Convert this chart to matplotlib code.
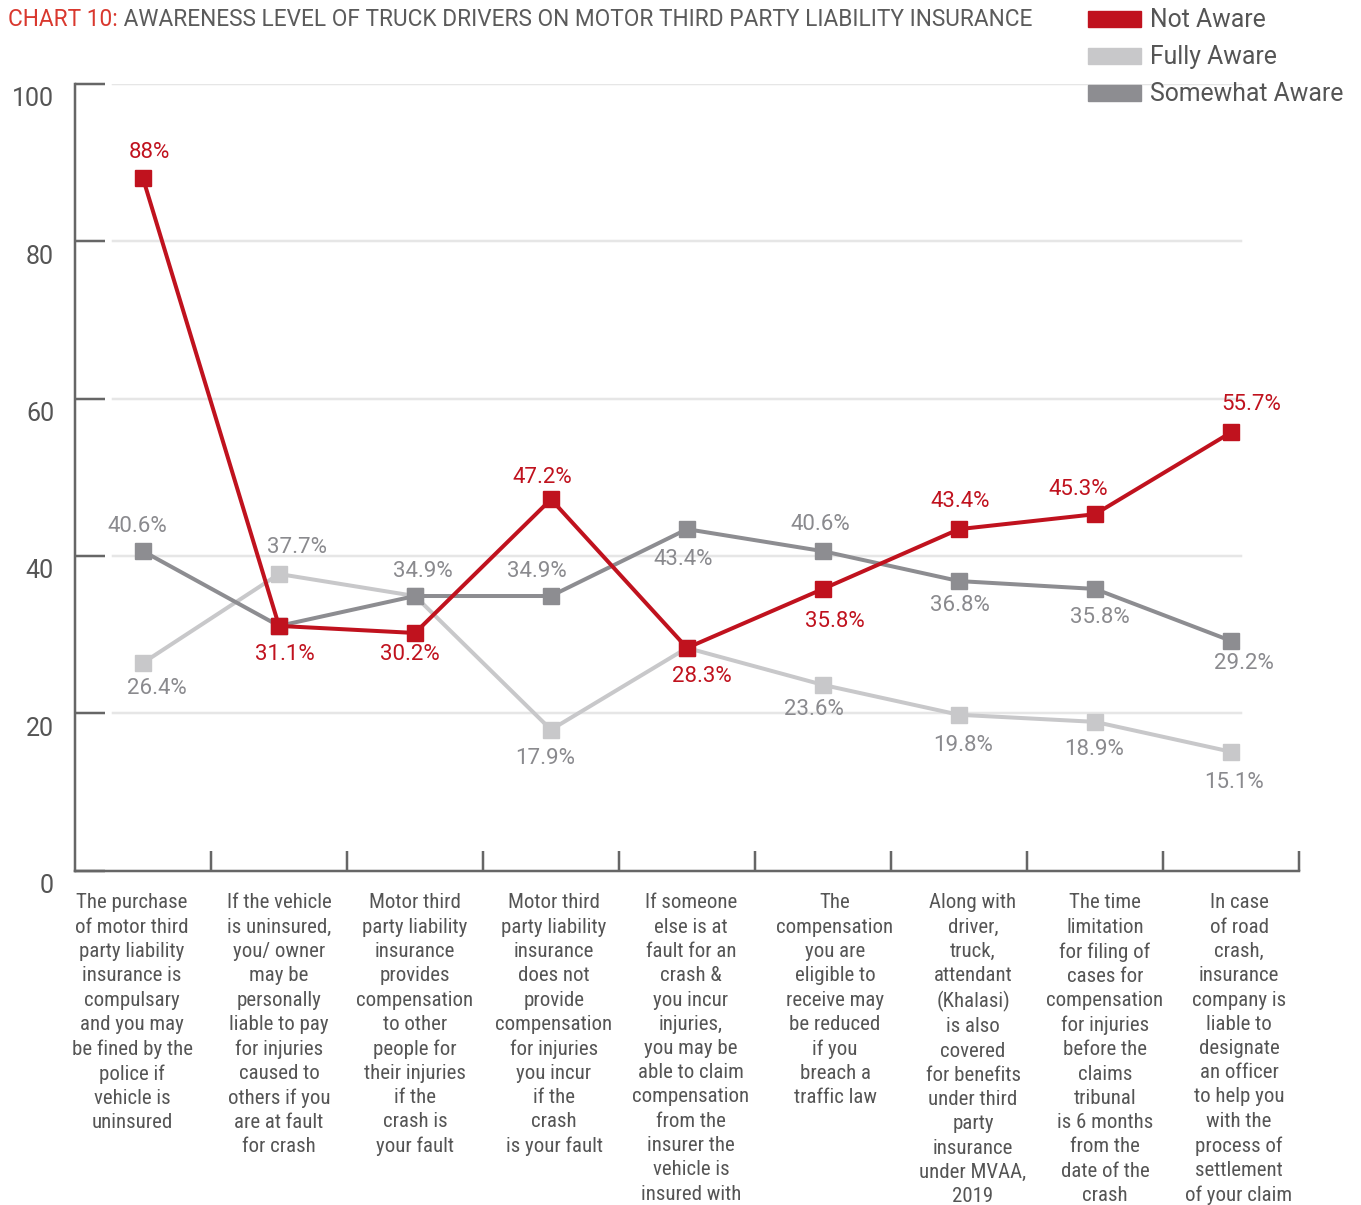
import matplotlib
matplotlib.use("Agg")
import matplotlib.pyplot as plt
from matplotlib import font_manager
from matplotlib.patches import Rectangle
from matplotlib.transforms import ScaledTranslation, blended_transform_factory

# ---------------- data ----------------
categories = [
    "The purchase\nof motor third\nparty liability\ninsurance is\ncompulsary\nand you may\nbe fined by the\npolice if\nvehicle is\nuninsured",
    "If the vehicle\nis uninsured,\nyou/ owner\nmay be\npersonally\nliable to pay\nfor injuries\ncaused to\nothers if you\nare at fault\nfor crash",
    "Motor third\nparty liability\ninsurance\nprovides\ncompensation\nto other\npeople for\ntheir injuries\nif the\ncrash is\nyour fault",
    "Motor third\nparty liability\ninsurance\ndoes not\nprovide\ncompensation\nfor injuries\nyou incur\nif the\ncrash\nis your fault",
    "If someone\nelse is at\nfault for an\ncrash &\nyou incur\ninjuries,\nyou may be\nable to claim\ncompensation\nfrom the\ninsurer the\nvehicle is\ninsured with",
    "The\ncompensation\nyou are\neligible to\nreceive may\nbe reduced\nif you\nbreach a\ntraffic law",
    "Along with\ndriver,\ntruck,\nattendant\n(Khalasi)\nis also\ncovered\nfor benefits\nunder third\nparty\ninsurance\nunder MVAA,\n2019",
    "The time\nlimitation\nfor filing of\ncases for\ncompensation\nfor injuries\nbefore the\nclaims\ntribunal\nis 6 months\nfrom the\ndate of the\ncrash",
    "In case\nof road\ncrash,\ninsurance\ncompany is\nliable to\ndesignate\nan officer\nto help you\nwith the\nprocess of\nsettlement\nof your claim",
]
not_aware = [88, 31.1, 30.2, 47.2, 28.3, 35.8, 43.4, 45.3, 55.7]
fully_aware = [26.4, 37.7, 34.9, 17.9, 28.3, 23.6, 19.8, 18.9, 15.1]
somewhat_aware = [40.6, 31.1, 34.9, 34.9, 43.4, 40.6, 36.8, 35.8, 29.2]
series_names = ["Not Aware", "Fully Aware", "Somewhat Aware"]
y_ticks = [0, 20, 40, 60, 80, 100]
title_prefix = "CHART 10:"
title_rest = " AWARENESS LEVEL OF TRUCK DRIVERS ON MOTOR THIRD PARTY LIABILITY INSURANCE"

# ---------------- styling ----------------
RED = "#c0121e"
LIGHT = "#c8c8ca"
DARK = "#8d8d91"
LABEL_GRAY = "#8a8a8e"
TEXT = "#555555"
SPINE = "#666666"

# value-label offsets in pixels (dx, dy up); None = no label
off_not = [(6, 26), (6, -29), (-5, -22), (-9, 22), (15, -29), (12, -33), (1, 28), (-17, 25), (20, 28)]
off_some = [(-6, 25), None, (8, 25), (-14, 25), (-4, -30), (-3, 27), (1, -24), (5, -29), (13, -23)]
off_full = [(14, -26), (18, 26), None, (-6, -29), None, (-9, -25), (4, -31), (-1, -28), (3, -31)]
# horizontal shift of category labels in pixels
cat_dx = [-11, 0, 0, 3, 4, 12, 14, 10, 8]

names = {f.name for f in font_manager.fontManager.ttflist}
if "Roboto Condensed" in names:
    COND = "Roboto Condensed"
elif "Liberation Sans Narrow" in names:
    COND = "Liberation Sans Narrow"
else:
    COND = "Roboto"
REG = "Roboto" if "Roboto" in names else "DejaVu Sans"

W, H = 1361, 1205
fig = plt.figure(figsize=(W / 100, H / 100), dpi=100)
ax = fig.add_axes([75 / W, 1 - 870.5 / H, 1224 / W, 786.5 / H])

x = list(range(len(categories)))
px = 0.72  # points per pixel

ax.plot(x, fully_aware, color=LIGHT, lw=4 * px, marker="s", ms=16 * px, zorder=3, solid_joinstyle="miter")
ax.plot(x, somewhat_aware, color=DARK, lw=4 * px, marker="s", ms=16 * px, zorder=4, solid_joinstyle="miter")
ax.plot(x, not_aware, color=RED, lw=4 * px, marker="s", ms=16 * px, zorder=5, solid_joinstyle="miter")

def labels(vals, offs, color):
    for xi, v, o in zip(x, vals, offs):
        if o is None:
            continue
        ax.annotate(f"{v:g}%", (xi, v), xytext=(o[0] * px, o[1] * px), textcoords="offset points",
                    ha="center", va="center", color=color, fontsize=16, family=REG, zorder=6)

labels(not_aware, off_not, RED)
labels(somewhat_aware, off_some, LABEL_GRAY)
labels(fully_aware, off_full, LABEL_GRAY)

# gridlines
for t in y_ticks[1:]:
    ax.axhline(t, xmin=38 / 1224, xmax=1166 / 1224, color="#e6e6e6", lw=2.5 * px, zorder=1)

ax.set_xlim(-0.5, len(categories) - 0.5)
ax.set_ylim(0, 100)
for s in ["top", "right"]:
    ax.spines[s].set_visible(False)
for s in ["left", "bottom"]:
    ax.spines[s].set_color(SPINE)
    ax.spines[s].set_linewidth(2.5 * px)

ax.set_yticks(y_ticks)
ax.set_yticklabels([str(t) for t in y_ticks])
ax.tick_params(axis="y", direction="in", length=30 * px, width=2.5 * px, color=SPINE,
               pad=21 * px, labelsize=18, labelcolor=TEXT)
for lab in ax.get_yticklabels():
    lab.set_fontfamily(REG)
    lab.set_transform(lab.get_transform() + ScaledTranslation(0, -13 / 100, fig.dpi_scale_trans))

# category labels
ax.set_xticks(x)
ax.set_xticklabels([])
ax.set_xticks([i + 0.5 for i in x], minor=True)
ax.tick_params(axis="x", which="major", length=0)
ax.tick_params(axis="x", which="minor", direction="in", length=20 * px, width=2.5 * px, color=SPINE)
blend = blended_transform_factory(ax.transData, ax.transAxes)
for xi, cat, dx in zip(x, categories, cat_dx):
    ax.text(xi, 0, cat, transform=blend + ScaledTranslation(dx / 100, -23 / 100, fig.dpi_scale_trans),
            ha="center", va="top", multialignment="center", fontsize=15, family=COND,
            color=TEXT, linespacing=1.35, clip_on=False)

# title (two colours)
t1 = fig.text(8 / W, 1 - 31 / H, title_prefix, color="#d9382e", fontsize=16.3, family=REG, va="bottom")
ax.annotate(title_rest, xy=(1, 0), xycoords=t1, va="bottom", ha="left", color="#5b5b5b",
            fontsize=16.3, family=REG, annotation_clip=False)

# legend
leg_colors = [RED, LIGHT, DARK]
for i, (nm, c) in enumerate(zip(series_names, leg_colors)):
    yc = 19 + 37 * i
    fig.patches.append(Rectangle((1088 / W, 1 - (yc + 8) / H), 53 / W, 16 / H,
                                 transform=fig.transFigure, color=c, figure=fig))
    fig.text(1150 / W, 1 - (yc + 1) / H, nm, color=TEXT, fontsize=17.8, family=REG,
             fontweight="normal", va="center", ha="left")

fig.savefig("out.png", dpi=100)
